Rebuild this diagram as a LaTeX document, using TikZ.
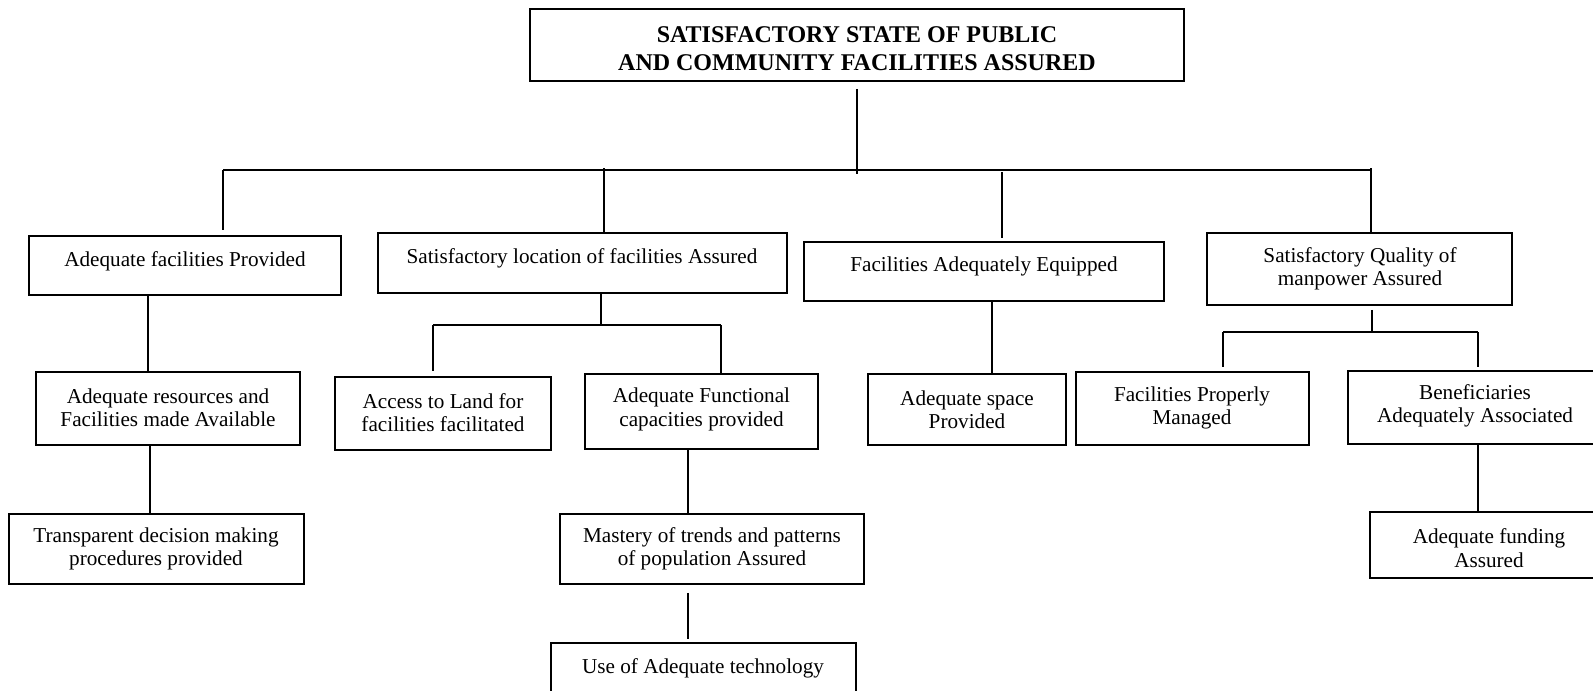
\documentclass[tikz,border=0pt]{standalone}
\usepackage{fontspec}
\setmainfont{Liberation Serif}
\usetikzlibrary{fit}
\begin{document}
\begin{tikzpicture}[x=0.5pt,y=-0.5pt,
  box/.style={draw, line width=0.95pt, inner sep=0pt, fit={#1}},
  txt/.style={font=\fontsize{10.6pt}{11.7pt}\selectfont, align=center, inner sep=0pt},
  ttl/.style={font=\bfseries\fontsize{12pt}{14pt}\selectfont, align=center, inner sep=0pt},
  conn/.style={line width=0.6pt}]
\fill[white] (0,0) rectangle (1593,690);
\useasboundingbox (0,0) rectangle (1593,690);
\clip (0,0) rectangle (1593,690);

% boxes
\node[box={(530,9)(1184,81)}] (top) {};
\node[ttl] (topt) at (857,49) {SATISFACTORY STATE OF PUBLIC\\AND COMMUNITY FACILITIES ASSURED};

\node[box={(29,236)(341,295)}] (b1) {};
\node[txt] (b1t) at (185,261) {Adequate facilities Provided};
\node[box={(378,233)(787,293)}] (b2) {};
\node[txt] (b2t) at (582,258) {Satisfactory location of facilities Assured};
\node[box={(804,242)(1164,301)}] (b3) {};
\node[txt] (b3t) at (984,266) {Facilities Adequately Equipped};
\node[box={(1207,233)(1512,305)}] (b4) {};
\node[txt] (b4t) at (1360,268.5) {Satisfactory Quality of\\manpower Assured};

\node[box={(36,372)(300,445)}] (c1) {};
\node[txt] (c1t) at (168,408) {Adequate resources and\\Facilities made Available};
\node[box={(335,377)(551,450)}] (c2) {};
\node[txt] (c2t) at (443,412.5) {Access to Land for\\facilities facilitated};
\node[box={(585,374)(818,449)}] (c3) {};
\node[txt] (c3t) at (701.5,409.5) {Adequate Functional\\capacities provided};
\node[box={(868,374)(1066,445)}] (c4) {};
\node[txt] (c4t) at (967,410) {Adequate space\\Provided};
\node[box={(1076,372)(1309,445)}] (c5) {};
\node[txt] (c5t) at (1192,408) {Facilities Properly\\Managed};
\node[box={(1348,371)(1602,444)}] (c6) {};
\node[txt] (c6t) at (1475,406) {Beneficiaries\\Adequately Associated};

\node[box={(9,514)(304,584)}] (d1) {};
\node[txt] (d1t) at (156,549) {Transparent decision making\\procedures provided};
\node[box={(560,514)(864,584)}] (d2) {};
\node[txt] (d2t) at (712,549) {Mastery of trends and patterns\\of population Assured};
\node[box={(1370,512)(1609,578)}] (d3) {};
\node[txt] (d3t) at (1489,548) {Adequate funding\\Assured};

\node[box={(551,643)(856,700)}] (e) {};
\node[txt] (et) at (703,668) {Use of Adequate technology};

% junction coordinates
\coordinate (jA) at (223,170);
\coordinate (jB) at (604,170);
\coordinate (jC) at (857,170);
\coordinate (jD) at (1002,170);
\coordinate (jE) at (1371,170);
\coordinate (m2) at (601,325);
\coordinate (m2l) at (433,325);
\coordinate (m2r) at (721,325);
\coordinate (m4) at (1372,332);
\coordinate (m4l) at (1223,332);
\coordinate (m4r) at (1478,332);
\coordinate (k1) at (148,0);
\coordinate (k3) at (992,0);
\coordinate (k5) at (150,0);
\coordinate (k6) at (688,0);
\coordinate (k7) at (1478,0);

% connectors
\draw[conn] ([yshift=-3.5pt]top.south) -- ([yshift=-2pt]jC);
\draw[conn] (jA) -- (jE);
\draw[conn, shorten >=2.5pt] (jA) -- (jA |- b1.north);
\draw[conn] ([yshift=1pt]jB) -- (jB |- b2.north);
\draw[conn, shorten >=1.5pt] ([yshift=-1pt]jD) -- (jD |- b3.north);
\draw[conn] ([yshift=1pt]jE) -- (jE |- b4.north);

\draw[conn] (b1.south -| k1) -- (c1.north -| k1);
\draw[conn] (b2.south -| m2) -- (m2);
\draw[conn] (m2l) -- (m2r);
\draw[conn, shorten >=2.5pt] (m2l) -- (m2l |- c2.north);
\draw[conn] (m2r) -- (m2r |- c3.north);
\draw[conn] (b3.south -| k3) -- (c4.north -| k3);
\draw[conn, shorten <=2pt] (b4.south -| m4) -- (m4);
\draw[conn] (m4l) -- (m4r);
\draw[conn, shorten >=2pt] (m4l) -- (m4l |- c5.north);
\draw[conn, shorten >=1.5pt] (m4r) -- (m4r |- c6.north);

\draw[conn] (c1.south -| k5) -- (d1.north -| k5);
\draw[conn] (c3.south -| k6) -- (d2.north -| k6);
\draw[conn, shorten <=4pt, shorten >=1.5pt] (d2.south -| k6) -- (e.north -| k6);
\draw[conn] (c6.south -| k7) -- (d3.north -| k7);
\end{tikzpicture}
\end{document}
